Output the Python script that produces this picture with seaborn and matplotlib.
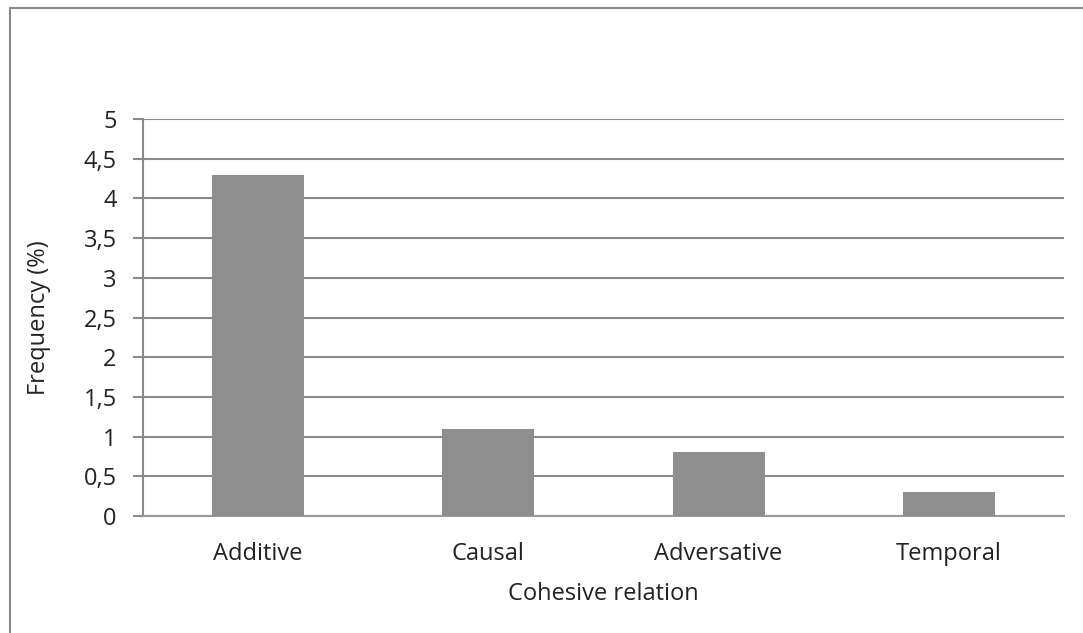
import matplotlib
matplotlib.use("Agg")
import matplotlib.pyplot as plt
from matplotlib.lines import Line2D
from matplotlib.ticker import FuncFormatter, MultipleLocator
import seaborn as sns
import pandas as pd

relations = ["Additive", "Causal", "Adversative", "Temporal"]
frequency = [4.3, 1.1, 0.8, 0.3]

df = pd.DataFrame({"relation": relations, "frequency": frequency})

sns.set_style("white")
plt.rcParams["font.family"] = ["Open Sans", "DejaVu Sans"]

fig = plt.figure(figsize=(10.83, 6.33), dpi=100)
ax = fig.add_axes([143 / 1083, 1 - 516 / 633, (1064 - 143) / 1083, (516 - 119) / 633])

grid_c = "#8a8a8a"
text_c = "#222222"
fs = 17

sns.barplot(data=df, x="relation", y="frequency", color="#8e8e8e",
            saturation=1, width=0.4, linewidth=0, ax=ax, zorder=3)

ax.set_ylim(0, 5)
ax.set_xlim(-0.5, len(relations) - 0.5)
ax.yaxis.set_major_locator(MultipleLocator(0.5))
ax.yaxis.set_major_formatter(FuncFormatter(lambda v, p: f"{v:g}".replace(".", ",")))
ax.grid(axis="y", color=grid_c, linewidth=1.5, zorder=0)
ax.set_axisbelow(True)

for side in ["top", "right"]:
    ax.spines[side].set_visible(False)
ax.spines["left"].set_color(grid_c)
ax.spines["left"].set_linewidth(1.5)
ax.spines["bottom"].set_color("#9a9a9a")
ax.spines["bottom"].set_linewidth(1.5)

ax.tick_params(axis="y", which="major", direction="out", length=7, width=1.5,
               color=grid_c, labelsize=fs, labelcolor=text_c, pad=12, left=True)
ax.tick_params(axis="x", length=0, labelsize=fs, labelcolor=text_c, pad=19)

ax.set_xlabel("Cohesive relation", fontsize=fs, color=text_c, labelpad=11)
ax.set_ylabel("Frequency (%)", fontsize=fs, color=text_c, labelpad=23)

# outer chart frame (left and top edges)
fx0 = 9.5 / 1083
fy1 = 1 - 7.5 / 633
fig.add_artist(Line2D([fx0, fx0], [0, fy1], color="#8a8a8a", linewidth=1.5,
                      transform=fig.transFigure))
fig.add_artist(Line2D([fx0, 1], [fy1, fy1], color="#8a8a8a", linewidth=1.5,
                      transform=fig.transFigure))

fig.savefig("out.png", dpi=100, facecolor="white")
